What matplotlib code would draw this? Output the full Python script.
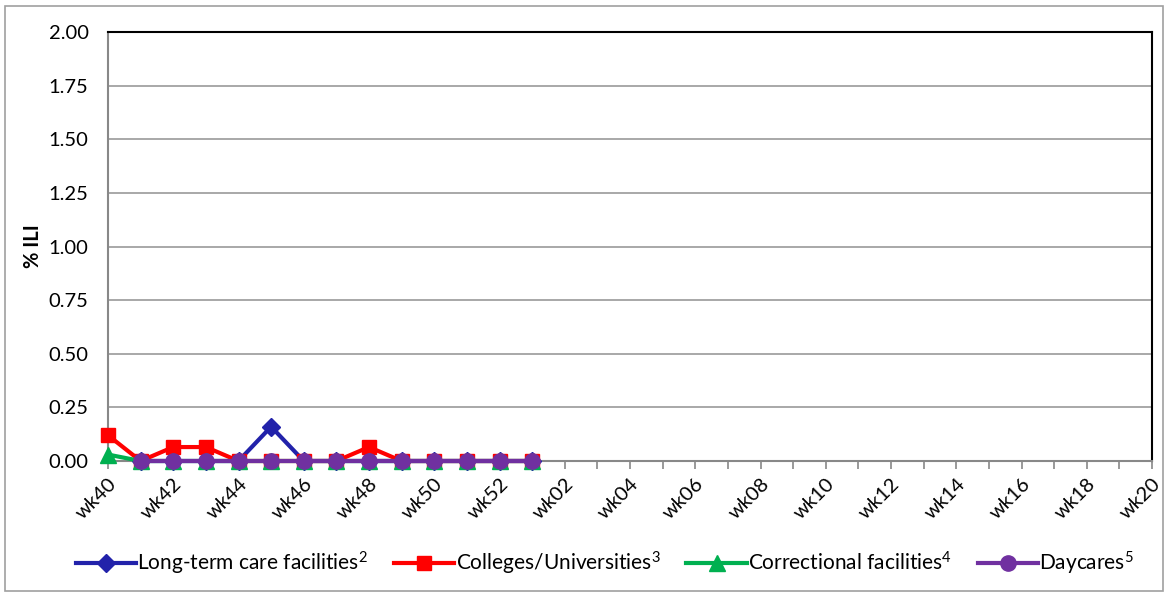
import numpy as np
import matplotlib
matplotlib.use("Agg")
import matplotlib.pyplot as plt
from matplotlib.patches import Rectangle

weeks = ["wk40", "wk41", "wk42", "wk43", "wk44", "wk45", "wk46", "wk47", "wk48", "wk49",
         "wk50", "wk51", "wk52", "wk01", "wk02", "wk03", "wk04", "wk05", "wk06", "wk07",
         "wk08", "wk09", "wk10", "wk11", "wk12", "wk13", "wk14", "wk15", "wk16", "wk17",
         "wk18", "wk19", "wk20"]
nan = np.nan
long_term = [nan, 0, 0, 0, 0, 0.16, 0, 0, 0, 0, 0, 0, 0, 0]
colleges = [0.12, 0, 0.065, 0.065, 0, 0, 0, 0, 0.065, 0, 0, 0, 0, 0]
correctional = [0.03, 0, 0, 0, 0, 0, 0, 0, 0, 0, 0, 0, 0, 0]
daycares = [nan, 0, 0, 0, 0, 0, 0, 0, 0, 0, 0, 0, 0, 0]
labels = ["Long-term care facilities$^{2}$", "Colleges/Universities$^{3}$",
          "Correctional facilities$^{4}$", "Daycares$^{5}$"]
yticks = [0, 0.25, 0.5, 0.75, 1.0, 1.25, 1.5, 1.75, 2.0]

plt.rcParams['font.family'] = ['Lato', 'DejaVu Sans']
plt.rcParams['mathtext.fontset'] = 'custom'
plt.rcParams['mathtext.rm'] = 'Lato'
plt.rcParams['mathtext.it'] = 'Lato'

W, H = 1169, 596
fig = plt.figure(figsize=(W / 100, H / 100), dpi=100)
ax = fig.add_axes([108 / W, 1 - 461 / H, (1152 - 108) / W, (461 - 32) / H])

fig.patches.append(Rectangle((5 / W, 5 / H), (1163 - 5) / W, (590 - 5) / H,
                             transform=fig.transFigure, fill=False,
                             edgecolor='#A0A0A0', linewidth=1.2, zorder=0))

x = np.arange(len(weeks))
specs = [
    (long_term, '#2222AA', 'D', 9),
    (colleges, '#FF0000', 's', 10),
    (correctional, '#00B050', '^', 11),
    (daycares, '#7030A0', 'o', 11),
]
for (vals, col, mk, ms), lab in zip(specs, labels):
    ax.plot(x[:len(vals)], vals, color=col, marker=mk, markersize=ms, linewidth=3,
            label=lab, clip_on=False, zorder=3)

ax.set_xlim(0, len(weeks) - 1)
ax.set_ylim(0, 2.0)
ax.set_yticks(yticks)
ax.set_yticklabels([f"{v:.2f}" for v in yticks], fontsize=14.5)
ax.tick_params(axis='y', length=0, pad=14)
ax.yaxis.grid(True, color='#999999', linewidth=1.2)
ax.set_axisbelow(True)

ax.set_xticks(x)
ax.set_xticklabels([w if i % 2 == 0 else "" for i, w in enumerate(weeks)],
                   rotation=45, ha='right', rotation_mode='anchor', fontsize=14.5)
ax.tick_params(axis='x', length=6, color='#888888', width=1.2, pad=4)

for s in ['left', 'bottom']:
    ax.spines[s].set_color('#888888')
    ax.spines[s].set_linewidth(1.5)
for s in ['top', 'right']:
    ax.spines[s].set_color('black')
    ax.spines[s].set_linewidth(1.5)

ax.set_ylabel("% ILI", fontsize=14.5, fontweight='bold', labelpad=4)

fig.legend(loc='center', bbox_to_anchor=(605 / W, 1 - 563 / H), ncol=4,
           frameon=False, fontsize=15, handlelength=2.9, columnspacing=1.25,
           handletextpad=0.05)

fig.savefig("out.png", dpi=100)
